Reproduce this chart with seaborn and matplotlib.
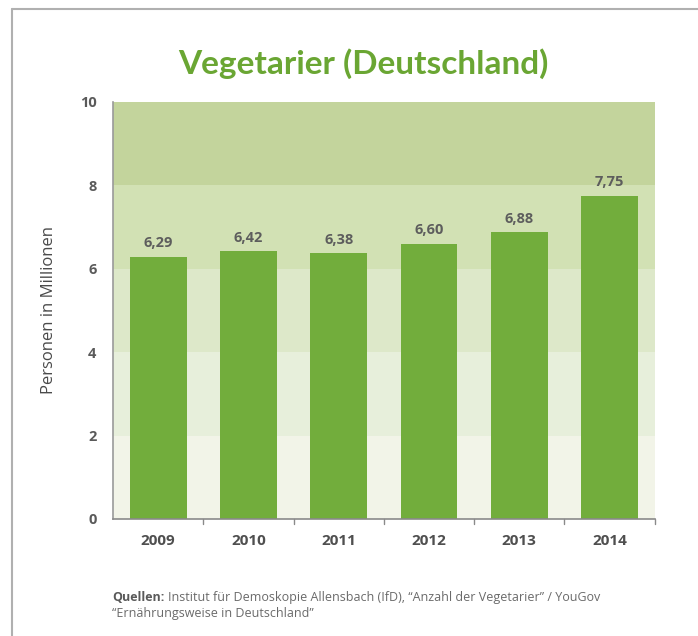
import matplotlib
matplotlib.use("Agg")
import matplotlib.pyplot as plt
import seaborn as sns
import pandas as pd
from matplotlib.lines import Line2D

years = ["2009", "2010", "2011", "2012", "2013", "2014"]
millions = [6.29, 6.42, 6.38, 6.60, 6.88, 7.75]
value_labels = ["6,29", "6,42", "6,38", "6,60", "6,88", "7,75"]
y_ticks = [0, 2, 4, 6, 8, 10]

# background bands (lower, upper, colour)
band_edges = [0, 2, 4, 6, 8, 10]
band_colors = ["#f2f4e8", "#e7efdb", "#dde8c9", "#d2e1b4", "#c3d49c"]

df = pd.DataFrame({"Jahr": years, "Personen": millions})

sns.set_theme(style="white")
plt.rcParams["font.family"] = ["Open Sans", "DejaVu Sans"]

fig = plt.figure(figsize=(6.98, 6.36), dpi=100)
ax = fig.add_axes([0.162, 0.184, 0.776, 0.656])

for lo, hi, col in zip(band_edges[:-1], band_edges[1:], band_colors):
    ax.axhspan(lo, hi, color=col, zorder=0, lw=0)

sns.barplot(data=df, x="Jahr", y="Personen", color="#72ad3c", saturation=1,
            width=0.63, ax=ax, zorder=2, edgecolor="none", linewidth=0)

for i, (v, lab) in enumerate(zip(millions, value_labels)):
    ax.text(i, v + 0.15, lab, ha="center", va="bottom", fontsize=10.5,
            fontweight="bold", color="#5d5d5d", zorder=3)

ax.set_ylim(0, 10)
ax.set_xlim(-0.5, 5.5)
ax.set_yticks(y_ticks)
ax.set_yticklabels([str(t) for t in y_ticks], fontsize=10.5, fontweight="bold",
                   color="#5a5a5a")
ax.tick_params(axis="y", length=0, pad=12)
ax.set_xticks(range(len(years)))
ax.set_xticklabels(years, fontsize=11, fontweight="bold", color="#4f4f4f")
ax.tick_params(axis="x", length=0, pad=11)

# minor ticks between categories on the x axis
for b in [0.5, 1.5, 2.5, 3.5, 4.5, 5.5]:
    ax.plot([b, b], [0, -0.12], color="#8a8a8a", lw=1, clip_on=False, zorder=4)

ax.set_xlabel("")
ax.set_ylabel("Personen in Millionen", fontsize=12, color="#4a4a4a",
              labelpad=16)

for s in ["top", "right"]:
    ax.spines[s].set_visible(False)
ax.spines["left"].set_color("#9a9a9a")
ax.spines["bottom"].set_color("#8a8a8a")
ax.spines["left"].set_linewidth(1.2)
ax.spines["bottom"].set_linewidth(1.2)

fig.text(0.52, 0.900, "Vegetarier (Deutschland)", ha="center", va="center",
         fontsize=24, fontweight="bold", color="#6aa633",
         family=["Lato", "DejaVu Sans"])

fig.text(0.161, 0.061, "Quellen:", ha="left", va="center", fontsize=9,
         fontweight="bold", color="#5a5a5a")
fig.text(0.241, 0.061,
         "Institut für Demoskopie Allensbach (IfD), \u201cAnzahl der Vegetarier\u201d / YouGov",
         ha="left", va="center", fontsize=9, color="#6a6a6a")
fig.text(0.161, 0.035, "\u201cErnährungsweise in Deutschland\u201d", ha="left",
         va="center", fontsize=9, color="#6a6a6a")

# frame lines at top and left of the card
fig.add_artist(Line2D([0.017, 1.0], [0.986, 0.986], transform=fig.transFigure,
                      color="#b0b0b0", lw=1.5))
fig.add_artist(Line2D([0.017, 0.017], [0.0, 0.986], transform=fig.transFigure,
                      color="#b0b0b0", lw=1.5))

fig.savefig("out.png", dpi=100, facecolor="white")
